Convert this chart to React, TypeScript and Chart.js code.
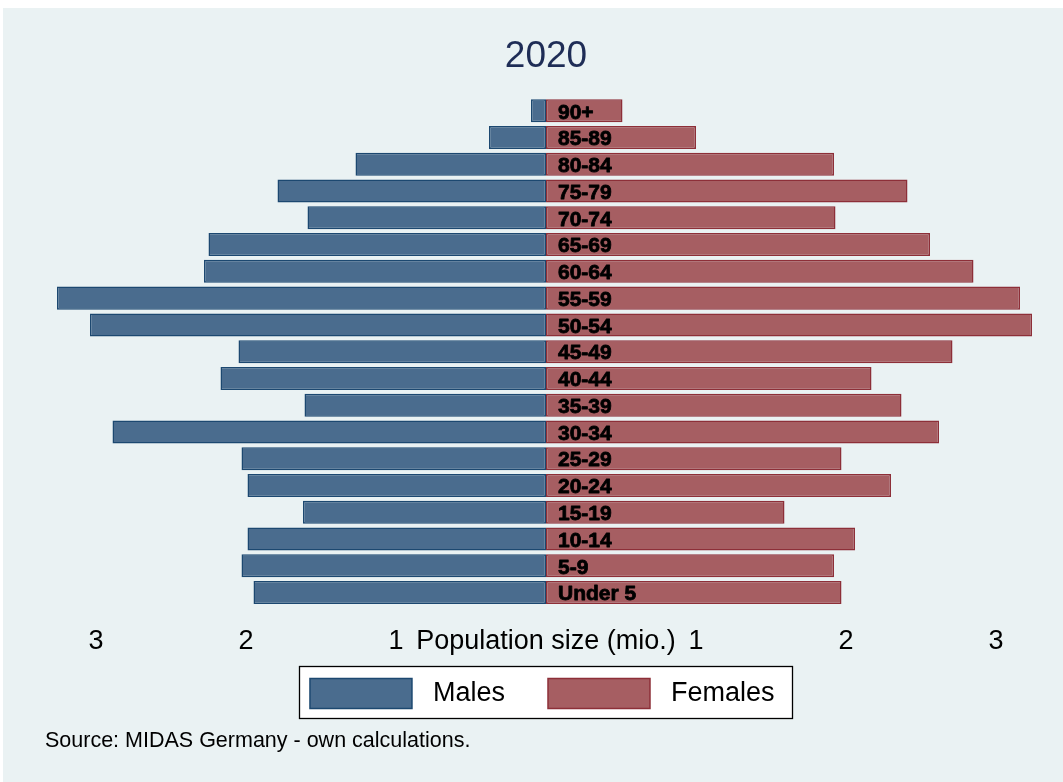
import React, { useEffect, useRef } from "react";
import { Chart, registerables } from "chart.js";

Chart.register(...registerables);

const AGE_GROUPS = [
  "90+", "85-89", "80-84", "75-79", "70-74", "65-69", "60-64", "55-59", "50-54",
  "45-49", "40-44", "35-39", "30-34", "25-29", "20-24", "15-19", "10-14", "5-9", "Under 5",
];
const MALES = [0.10, 0.38, 1.27, 1.79, 1.59, 2.25, 2.28, 3.26, 3.04, 2.05, 2.17, 1.61, 2.89, 2.03, 1.99, 1.62, 1.99, 2.03, 1.95];
const FEMALES = [0.51, 1.00, 1.92, 2.41, 1.93, 2.56, 2.85, 3.16, 3.24, 2.71, 2.17, 2.37, 2.62, 1.97, 2.30, 1.59, 2.06, 1.92, 1.97];
const X_TICKS = [-3, -2, -1, 0, 1, 2, 3];
const SERIES = ["Males", "Females"];
const TITLE = "2020";
const AXIS_TITLE = "Population size (mio.)";
const SOURCE = "Source: MIDAS Germany - own calculations.";

const FONT = "'Liberation Sans', Arial, Helvetica, sans-serif";
const BG = "#EAF2F3";
const MALE_FILL = "#4A6C8E";
const MALE_BORDER = "#1C4870";
const FEMALE_FILL = "#A65E62";
const FEMALE_BORDER = "#8D2F38";

const W = 1060;
const H = 774;

export default function App() {
  const ref = useRef<HTMLCanvasElement | null>(null);

  useEffect(() => {
    if (!ref.current) return;

    const framePlugin = {
      id: "frame",
      beforeDraw(chart: any) {
        const ctx = chart.ctx;
        ctx.save();
        ctx.fillStyle = BG;
        ctx.fillRect(0, 0, chart.width, chart.height);
        const leg = chart.legend;
        const hb = leg && leg.legendHitBoxes;
        if (hb && hb.length > 1) {
          const fs = leg.options.labels.font.size;
          ctx.font = `${fs}px ${FONT}`;
          const tw = ctx.measureText(" " + SERIES[1]).width;
          const bw = leg.options.labels.boxWidth;
          const bh = leg.options.labels.boxHeight;
          const x0 = Math.round(hb[0].left - 11) + 0.5;
          const x1 = Math.round(hb[1].left + bw + fs / 2 + tw + 17) + 0.5;
          const y0 = Math.round(hb[0].top - 12) + 0.5;
          const y1 = Math.round(hb[0].top + bh + 10) + 0.5;
          ctx.fillStyle = "#FFFFFF";
          ctx.fillRect(x0, y0, x1 - x0, y1 - y0);
          ctx.strokeStyle = "#000000";
          ctx.lineWidth = 1.3;
          ctx.strokeRect(x0, y0, x1 - x0, y1 - y0);
        }
        ctx.restore();
      },
    };

    const labelPlugin = {
      id: "ageLabels",
      afterDatasetsDraw(chart: any) {
        const ctx = chart.ctx;
        const xs = chart.scales.x;
        const ys = chart.scales.y;
        const x = xs.getPixelForValue(0) + 12;
        ctx.save();
        ctx.font = `bold 21px ${FONT}`;
        ctx.fillStyle = "#000000";
        ctx.strokeStyle = "#000000";
        ctx.lineWidth = 0.8;
        ctx.lineJoin = "round";
        ctx.textAlign = "left";
        ctx.textBaseline = "middle";
        AGE_GROUPS.forEach((lab, i) => {
          const y = ys.getPixelForValue(i) + 2;
          ctx.strokeText(lab, x, y);
          ctx.fillText(lab, x, y);
        });
        ctx.restore();
      },
    };

    const chart = new Chart(ref.current, {
      type: "bar",
      data: {
        labels: AGE_GROUPS,
        datasets: [
          {
            label: SERIES[0],
            data: MALES.map((v) => -v),
            backgroundColor: MALE_FILL,
            borderColor: MALE_BORDER,
            borderWidth: 1.5,
            borderSkipped: false,
            barPercentage: 0.86,
            categoryPercentage: 1,
          },
          {
            label: SERIES[1],
            data: FEMALES,
            backgroundColor: FEMALE_FILL,
            borderColor: FEMALE_BORDER,
            borderWidth: 1.5,
            borderSkipped: false,
            barPercentage: 0.86,
            categoryPercentage: 1,
          },
        ],
      },
      options: {
        indexAxis: "y",
        responsive: false,
        animation: false,
        layout: { padding: { top: 0, left: 42, right: 16, bottom: 17.8 } },
        scales: {
          x: {
            type: "linear",
            min: -3.34,
            max: 3.34,
            stacked: true,
            afterBuildTicks: (s: any) => {
              s.ticks = X_TICKS.map((v) => ({ value: v }));
            },
            afterFit: (s: any) => {
              s.height = 59.5;
            },
            grid: { display: false, drawTicks: false },
            border: { display: false },
            ticks: {
              autoSkip: false,
              maxRotation: 0,
              padding: 19,
              color: "#000000",
              font: { size: 27, family: FONT },
              callback: (v: any) => (Number(v) === 0 ? AXIS_TITLE : String(Math.abs(Number(v)))),
            },
          },
          y: {
            display: false,
            stacked: true,
          },
        },
        plugins: {
          tooltip: { enabled: false },
          title: {
            display: true,
            text: TITLE,
            color: "#1F2D56",
            font: { size: 37, weight: "normal", family: FONT },
            padding: { top: 27, bottom: 18 },
          },
          subtitle: {
            display: true,
            text: SOURCE,
            position: "bottom",
            align: "start",
            color: "#000000",
            font: { size: 21.5, weight: "normal", family: FONT },
            padding: { top: 10, bottom: 10 },
          },
          legend: {
            display: true,
            position: "bottom",
            align: "center",
            labels: {
              boxWidth: 102,
              boxHeight: 30,
              padding: 13,
              color: "#000000",
              font: { size: 27, family: FONT },
              generateLabels: (c: any) =>
                c.data.datasets.map((ds: any, i: number) => ({
                  text: i === 0 ? " " + ds.label + "    " : " " + ds.label + " ",
                  fillStyle: ds.backgroundColor,
                  strokeStyle: ds.borderColor,
                  lineWidth: 1.5,
                  hidden: false,
                  datasetIndex: i,
                  fontColor: "#000000",
                })),
            },
          },
        },
      },
      plugins: [framePlugin, labelPlugin],
    } as any);

    return () => chart.destroy();
  }, []);

  return (
    <div style={{ position: "absolute", left: 3, top: 8, width: W, height: H }}>
      <canvas ref={ref} width={W} height={H} style={{ width: W, height: H, display: "block" }} />
    </div>
  );
}
